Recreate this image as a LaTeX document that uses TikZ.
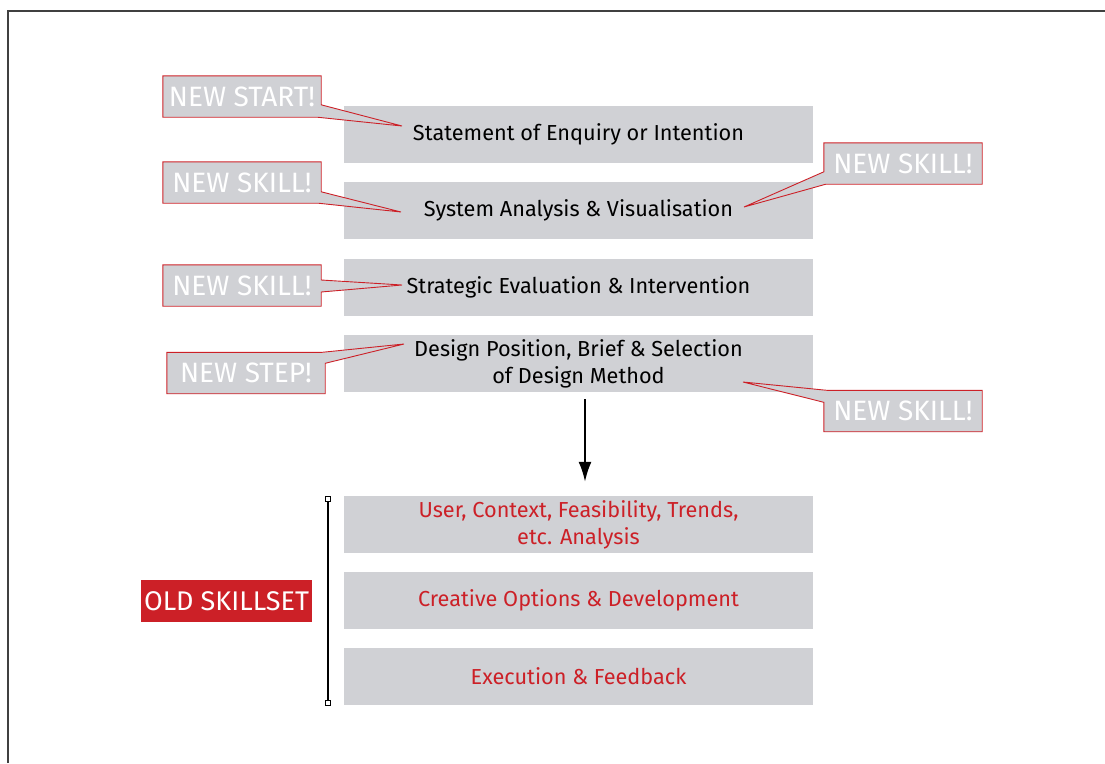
\documentclass[tikz,border=0pt]{standalone}
\usepackage{fontspec}
\setmainfont{Fira Sans}
\usetikzlibrary{calc,arrows.meta}
\definecolor{boxgray}{RGB}{208,209,213}
\definecolor{tagred}{RGB}{204,32,39}
\tikzset{
  stepbox/.style={fill=boxgray, minimum width=469pt, minimum height=57pt, inner sep=0pt,
    align=center, font=\fontsize{21.7}{27}\selectfont},
  oldstep/.style={stepbox, text=tagred},
  newtag/.style={fill=boxgray, minimum width=158pt, minimum height=41pt, inner sep=0pt,
    text=white, font=\fontsize{28}{30}\selectfont},
  tagline/.style={draw=tagred, line width=0.9pt},
  tagfill/.style={fill=boxgray},
  endmark/.style={draw, fill=white, line width=0.8pt, minimum size=5pt, inner sep=0pt},
}
\begin{document}
\begin{tikzpicture}[x=1pt, y=-1pt]
    \useasboundingbox (0,0) rectangle (1105,763);
    \draw[line width=1.5pt, black!75] (8,763) -- (8,11) -- (1105,11);

    % steps of the process
    \node[stepbox] (enquiry)  at (578.5,134.5) {Statement of Enquiry or Intention};
    \node[stepbox] (system)   at (578.5,210.5) {System Analysis \& Visualisation};
    \node[stepbox] (strategy) at (578.5,287.5) {Strategic Evaluation \& Intervention};
    \node[stepbox] (design)   at (578.5,363.5) {Design Position, Brief \& Selection\\of Design Method};

    \node[oldstep] (analysis) at (578.5,524.5) {User, Context, Feasibility, Trends,\\etc. Analysis};
    \node[oldstep] (creative) at (578.5,600.5) {Creative Options \& Development};
    \node[oldstep] (execution) at (578.5,676.5) {Execution \& Feedback};

    \draw[-{Latex[length=20pt,width=13pt]}, line width=2pt]
      ($(design.south)+(6.5,7)$) -- ($(analysis.north)+(6.5,-14)$);

    % callout tips
    \coordinate (tipA) at (402,126);
    \coordinate (tipB) at (401,212);
    \coordinate (tipC) at (402,285);
    \coordinate (tipD) at (404,344);
    \coordinate (tipE) at (744,207);
    \coordinate (tipF) at (743,382);

    \node[newtag] (start)  at (242,96.5)  {NEW START!};
    \node[newtag] (skillA) at (242,182.5) {NEW SKILL!};
    \node[newtag] (skillB) at (242,285.5) {NEW SKILL!};
    \node[newtag] (newstep) at (246,373)  {NEW STEP!};
    \node[newtag] (skillC) at (903,163.5) {NEW SKILL!};
    \node[newtag] (skillD) at (903,411)   {NEW SKILL!};

    \fill[tagfill] ($(start.north east)+(0,29)$) -- (tipA) -- ($(start.south east)+(-4,0)$) -- (start.south east) -- cycle;
    \draw[tagline] (start.north west) -- (start.north east) -- ($(start.north east)+(0,29)$) -- (tipA)
      -- ($(start.south east)+(-4,0)$) -- (start.south west) -- cycle;

    \fill[tagfill] ($(skillA.north east)+(0,30)$) -- (tipB) -- ($(skillA.south east)+(-3,0)$) -- (skillA.south east) -- cycle;
    \draw[tagline] (skillA.north west) -- (skillA.north east) -- ($(skillA.north east)+(0,30)$) -- (tipB)
      -- ($(skillA.south east)+(-3,0)$) -- (skillA.south west) -- cycle;

    \fill[tagfill] ($(skillB.east)+(0,-5.5)$) -- (tipC) -- ($(skillB.east)+(0,6.5)$) -- cycle;
    \draw[tagline] (skillB.north west) -- (skillB.north east) -- ($(skillB.east)+(0,-5.5)$) -- (tipC)
      -- ($(skillB.east)+(0,6.5)$) -- (skillB.south east) -- (skillB.south west) -- cycle;

    \fill[tagfill] ($(newstep.north east)+(-3,0)$) -- (tipD) -- ($(newstep.north east)+(0,11)$) -- (newstep.north east) -- cycle;
    \draw[tagline] (newstep.north west) -- ($(newstep.north east)+(-3,0)$) -- (tipD)
      -- ($(newstep.north east)+(0,11)$) -- (newstep.south east) -- (newstep.south west) -- cycle;

    \fill[tagfill] ($(skillC.south west)+(2,0)$) -- (tipE) -- ($(skillC.north west)+(0,29)$) -- (skillC.south west) -- cycle;
    \draw[tagline] (skillC.north west) -- (skillC.north east) -- (skillC.south east)
      -- ($(skillC.south west)+(2,0)$) -- (tipE) -- ($(skillC.north west)+(0,29)$) -- cycle;

    \fill[tagfill] ($(skillD.north west)+(3,0)$) -- (tipF) -- ($(skillD.north west)+(0,12)$) -- (skillD.north west) -- cycle;
    \draw[tagline] ($(skillD.north west)+(3,0)$) -- (skillD.north east) -- (skillD.south east)
      -- (skillD.south west) -- ($(skillD.north west)+(0,12)$) -- (tipF) -- cycle;

    % old skillset bracket
    \node[fill=tagred, text=white, minimum width=171pt, minimum height=42pt, inner sep=0pt,
      font=\fontsize{27}{30}\selectfont] (old) at (226.5,601) {OLD SKILLSET};
    \coordinate (oldtop) at (328,499);
    \coordinate (oldbot) at (328,703);
    \draw[line width=1.2pt] (oldtop) -- (oldbot);
    \node[endmark] at (oldtop) {};
    \node[endmark] at (oldbot) {};
\end{tikzpicture}
\end{document}
